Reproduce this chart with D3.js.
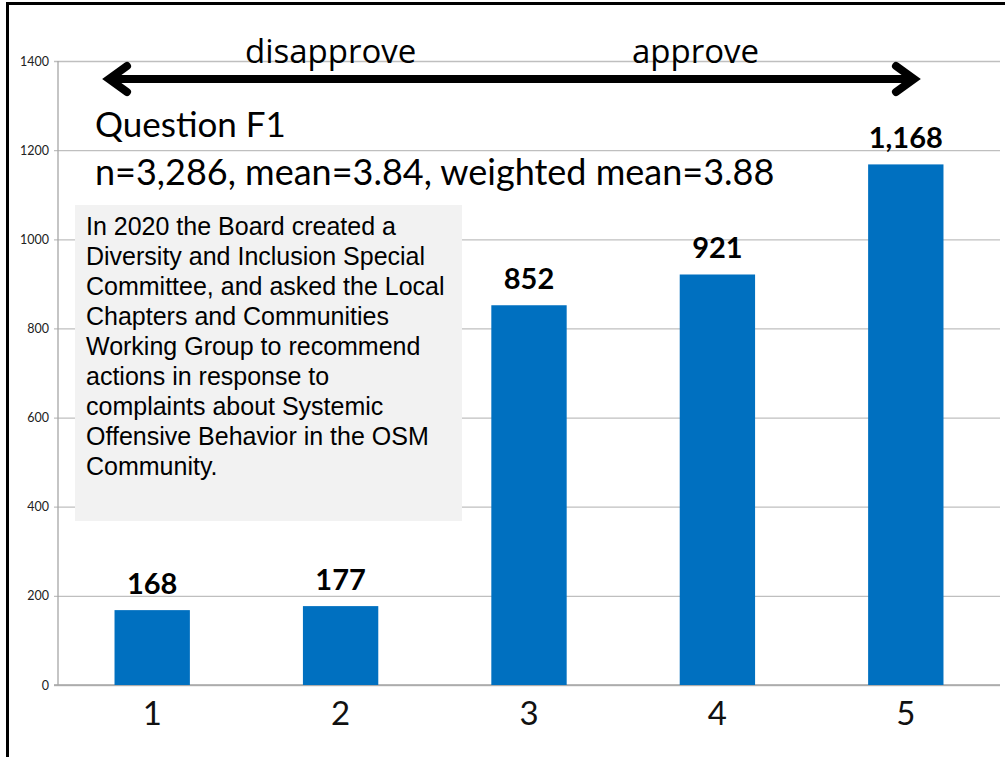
<!DOCTYPE html>
<html>
<head>
<meta charset="utf-8">
<script src="https://cdn.jsdelivr.net/npm/d3@7"></script>
<style>
  html, body { margin: 0; padding: 0; background: #fff; }
  svg { display: block; }
</style>
</head>
<body>
<svg id="chart" width="1005" height="757"></svg>
<script>
// Survey answer scale and response counts
const categories = ["1", "2", "3", "4", "5"];
const counts = [168, 177, 852, 921, 1168];
const valueLabels = ["168", "177", "852", "921", "1,168"];
const yTicks = [0, 200, 400, 600, 800, 1000, 1200, 1400];

const titleText = "Question F1";
const statsText = "n=3,286, mean=3.84, weighted mean=3.88";
const scaleEnds = ["disapprove", "approve"];
const noteLines = [
  "In 2020 the Board created a",
  "Diversity and Inclusion Special",
  "Committee, and asked the Local",
  "Chapters and Communities",
  "Working Group to recommend",
  "actions in response to",
  "complaints about Systemic",
  "Offensive Behavior in the OSM",
  "Community."
];

const svg = d3.select("#chart");
const plot = { left: 58, right: 1000, top: 61, bottom: 685 };

const x = d3.scaleBand()
  .domain(categories)
  .range([plot.left, plot.right])
  .paddingInner(0.6)
  .paddingOuter(0.3);

const y = d3.scaleLinear()
  .domain([0, 1400])
  .range([plot.bottom, plot.top]);

// Frame around the whole slide area
svg.append("rect")
  .attr("x", 7.5).attr("y", 3.5)
  .attr("width", 1100).attr("height", 900)
  .attr("fill", "none")
  .attr("stroke", "#000")
  .attr("stroke-width", 3);

// Horizontal gridlines with short outside ticks and value labels
const yAxis = d3.axisLeft(y)
  .tickValues(yTicks)
  .tickSize(-(plot.right - plot.left))
  .tickPadding(9)
  .tickFormat(d3.format("d"));

const gy = svg.append("g")
  .attr("transform", `translate(${plot.left},0)`)
  .call(yAxis);
gy.select(".domain").remove();
gy.selectAll(".tick line")
  .attr("x1", -4)
  .attr("stroke", "#bfbfbf")
  .attr("stroke-width", 1.3);
gy.selectAll(".tick text")
  .attr("font-family", "Lato, sans-serif")
  .attr("font-size", 12.5)
  .attr("fill", "#222");

// Vertical axis line
svg.append("line")
  .attr("x1", plot.left).attr("x2", plot.left)
  .attr("y1", plot.top).attr("y2", plot.bottom)
  .attr("stroke", "#a6a6a6")
  .attr("stroke-width", 1.3);

// Category axis along the baseline
const xAxis = d3.axisBottom(x).tickSize(0).tickPadding(17);
const gx = svg.append("g")
  .attr("transform", `translate(0,${plot.bottom})`)
  .call(xAxis);
gx.select(".domain")
  .attr("d", `M${plot.left - 4},0H${plot.right}`)
  .attr("stroke", "#a6a6a6")
  .attr("stroke-width", 1.3);
gx.selectAll(".tick text")
  .attr("font-family", "Lato, sans-serif")
  .attr("font-size", 33)
  .attr("fill", "#111")
  .attr("dy", "0.71em");

// Bars
svg.append("g").selectAll("rect")
  .data(counts)
  .join("rect")
  .attr("x", (d, i) => x(categories[i]))
  .attr("y", d => y(d))
  .attr("width", x.bandwidth())
  .attr("height", d => y(0) - y(d))
  .attr("fill", "#0070c0");

// Value labels above bars
svg.append("g").selectAll("text")
  .data(counts)
  .join("text")
  .attr("x", (d, i) => x(categories[i]) + x.bandwidth() / 2)
  .attr("y", d => y(d) - 16)
  .attr("text-anchor", "middle")
  .attr("font-family", "Lato, sans-serif")
  .attr("font-weight", "bold")
  .attr("font-size", 29)
  .attr("fill", "#000")
  .text((d, i) => valueLabels[i]);

// Explanatory note box
svg.append("rect")
  .attr("x", 75).attr("y", 205)
  .attr("width", 387).attr("height", 316)
  .attr("fill", "#f2f2f2");

svg.append("g").selectAll("text")
  .data(noteLines)
  .join("text")
  .attr("x", 86)
  .attr("y", (d, i) => 235 + i * 30)
  .attr("font-family", "'Liberation Sans', Arial, sans-serif")
  .attr("font-size", 25)
  .attr("fill", "#000")
  .text(d => d);

// Title and summary statistics
svg.append("text")
  .attr("x", 95).attr("y", 137)
  .attr("font-family", "Lato, sans-serif")
  .attr("font-size", 35)
  .attr("fill", "#000")
  .text(titleText);

svg.append("text")
  .attr("x", 95).attr("y", 185)
  .attr("font-family", "Lato, sans-serif")
  .attr("font-size", 36)
  .attr("fill", "#000")
  .text(statsText);

// Scale-direction labels
svg.append("text")
  .attr("x", 245).attr("y", 63)
  .attr("font-family", "'Open Sans', sans-serif")
  .attr("font-size", 33)
  .attr("fill", "#000")
  .text(scaleEnds[0]);

svg.append("text")
  .attr("x", 632).attr("y", 63)
  .attr("font-family", "'Open Sans', sans-serif")
  .attr("font-size", 33)
  .attr("fill", "#000")
  .text(scaleEnds[1]);

// Double-headed arrow spanning the scale
const arrow = svg.append("g")
  .attr("fill", "none")
  .attr("stroke", "#000")
  .attr("stroke-width", 8)
  .attr("stroke-linecap", "round")
  .attr("stroke-linejoin", "miter");
arrow.append("line")
  .attr("x1", 108).attr("x2", 915)
  .attr("y1", 79).attr("y2", 79)
  .attr("stroke-linecap", "butt");
arrow.append("path").attr("d", "M127,66L109,79L127,92");
arrow.append("path").attr("d", "M896,66L914,79L896,92");
</script>
</body>
</html>
